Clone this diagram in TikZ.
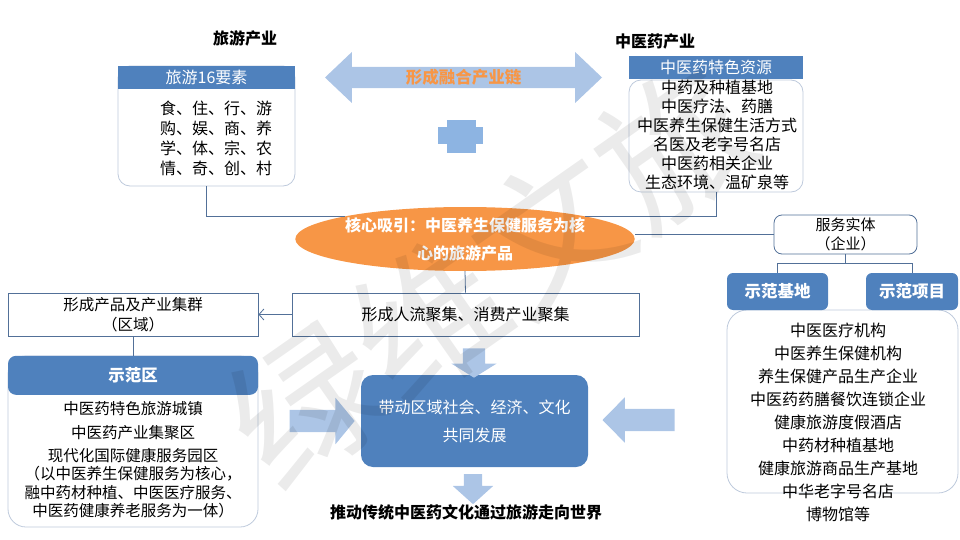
\documentclass[tikz,border=0pt]{standalone}
\usepackage{fontspec}
\setmainfont{Noto Sans CJK SC}
\usepackage{xcolor}
\definecolor{hdrblue}{RGB}{79,129,189}
\definecolor{arrowblue}{RGB}{172,197,230}
\definecolor{plusblue}{RGB}{141,180,226}
\definecolor{coreorange}{RGB}{247,150,70}
\definecolor{linkblue}{RGB}{82,112,152}
\definecolor{cardline}{RGB}{190,202,220}
\usepackage{tikz}
\usetikzlibrary{
  shapes.geometric, shapes.arrows,
  arrows.meta, positioning
}

\begin{document}
\begin{tikzpicture}[x=1pt, y=-1pt,
  hdr/.style={fill=hdrblue, text=white, inner sep=0pt,
    font=\fontsize{16}{19}\selectfont},
  hdrbold/.style={fill=hdrblue, text=white, inner sep=0pt,
    rounded corners=6pt, font=\fontsize{16.5}{19}\selectfont\bfseries},
  card/.style={draw=cardline, line width=0.8pt, fill=white, inner sep=0pt},
  plainbox/.style={draw=linkblue, line width=0.8pt, fill=white,
    inner sep=0pt, align=center},
  listtext/.style={align=center, inner sep=0pt},
  title/.style={inner sep=0pt, font=\fontsize{16}{19}\selectfont\bfseries},
  blockarr/.style={fill=arrowblue, draw=none, inner sep=0pt},
  link/.style={draw=linkblue, line width=0.8pt},
  arr/.style={link, -{Straight Barb[length=5pt, width=11pt]}}]

  \useasboundingbox (0,0) rectangle (960,540);

  % the two industries
  \node[title] (tourtitle) at (245,38) {旅游产业};
  \node[title] (tcmtitle) at (655,41) {中医药产业};

  \node[card, rounded corners=12pt, minimum width=177pt, minimum height=120pt] (tourbody) at (206.5,126) {};
  \node[hdr, anchor=north, minimum width=177pt, minimum height=23pt] (tourhdr) at (tourbody.north) {旅游16要素};
  \node[listtext, font=\fontsize{16}{20}\selectfont] (tourlist) at (216,138)
    {食、住、行、游\\购、娱、商、养\\学、体、宗、农\\情、奇、创、村};

  \node[card, rounded corners=12pt, minimum width=174pt, minimum height=112pt] (tcmbody) at (716,136) {};
  \node[hdr, anchor=south, minimum width=174pt, minimum height=23pt] (tcmhdr) at (tcmbody.north) {中医药特色资源};
  \node[listtext, font=\fontsize{16}{19}\selectfont] (tcmlist) at (717,135)
    {中药及种植基地\\中医疗法、药膳\\中医养生保健生活方式\\名医及老字号名店\\中医药相关企业\\生态环境、温矿泉等};

  \node[blockarr, double arrow, double arrow tip angle=87, double arrow head extend=11.5pt,
    minimum width=51pt, minimum height=277pt, text=coreorange,
    font=\fontsize{16.5}{19}\selectfont\bfseries] (chain) at (463.5,77.5) {形成融合产业链};

  \node[fill=plusblue, inner sep=0pt, minimum width=45pt, minimum height=17pt] (plush) at (460.5,135.5) {};
  \node[fill=plusblue, inner sep=0pt, minimum width=29pt, minimum height=33pt] (plusv) at (461.5,136.5) {};

  % core product
  \node[ellipse, fill=coreorange, inner sep=0pt, minimum width=304pt, minimum height=64pt,
    text=white, align=center, font=\fontsize{16}{28}\selectfont\bfseries] (core) at (465,239)
    {核心吸引：中医养生保健服务为核\\心的旅游产品};

  \draw[link] (tourbody.south) |- (core.north west);
  \draw[link] (tcmbody.south) |- (core.north east);

  \node[plainbox, minimum width=347pt, minimum height=43pt, font=\fontsize{16}{19}\selectfont] (flow) at (465.5,314.5)
    {形成人流聚集、消费产业聚集};
  \draw[link] (core.south) -- (flow.north);

  % left: region
  \node[plainbox, minimum width=250pt, minimum height=43pt, font=\fontsize{15.5}{20}\selectfont] (cluster) at (133,314.5)
    {形成产品及产业集群\\（区域）};
  \draw[arr] (flow.west) -- (cluster.east);

  \node[card, rounded corners=18pt, minimum width=250pt, minimum height=171pt] (zonebody) at (133,441.5) {};
  \node[hdrbold, anchor=north, rounded corners=8pt, minimum width=250pt, minimum height=39pt] (zonehdr) at (zonebody.north) {示范区};
  \draw[link] (cluster.south) -- (zonehdr.north);
  \node[listtext, font=\fontsize{15.5}{18.5}\selectfont] (zonelist) at (133,460)
    {中医药特色旅游城镇\\[5pt]中医药产业集聚区\\[4.5pt]现代化国际健康服务园区\\（以中医养生保健服务为核心，\\融中药材种植、中医医疗服务、\\中医药健康养老服务为一体）};

  % right: enterprises
  \node[plainbox, rounded corners=8pt, minimum width=143pt, minimum height=39pt, font=\fontsize{15}{19}\selectfont] (service) at (845.5,234.5)
    {服务实体\\（企业）};
  \draw[link] (service.west) -- (service.west -| core.east);

  \node[card, rounded corners=20pt, minimum width=231pt, minimum height=183pt] (sitebody) at (842.5,401.5) {};
  \node[hdrbold, minimum width=101pt, minimum height=37pt] (base) at (777.5,291.5) {示范基地};
  \node[hdrbold, minimum width=92pt, minimum height=37pt] (proj) at (912,291.5) {示范项目};
  \coordinate (fork) at ([yshift=-8.5pt]service.south);
  \draw[link] (service.south) -- (fork);
  \draw[link] (base.north) |- (fork) -| (proj.north);
  \node[listtext, font=\fontsize{16}{23}\selectfont] (sitelist) at (838,422)
    {中医医疗机构\\中医养生保健机构\\养生保健产品生产企业\\中医药药膳餐饮连锁企业\\健康旅游度假酒店\\中药材种植基地\\健康旅游商品生产基地\\中华老字号名店\\博物馆等};

  % development
  \node[fill=hdrblue, rounded corners=12pt, inner sep=0pt, minimum width=227pt, minimum height=92pt,
    text=white, align=center, font=\fontsize{16}{28}\selectfont] (develop) at (474.5,421)
    {带动区域社会、经济、文化\\共同发展};

  \node[blockarr, single arrow, shape border rotate=270, inner sep=11pt, single arrow tip angle=116,
    single arrow head extend=11.5pt, minimum width=45pt, minimum height=29pt] (intoa) at (474,359.5) {};
  \node[blockarr, single arrow, shape border rotate=270, inner sep=9pt, single arrow tip angle=96,
    single arrow head extend=11pt, minimum width=40pt, minimum height=30pt] (outa) at (473,485) {};
  \node[blockarr, single arrow, inner sep=11pt, single arrow tip angle=101,
    single arrow head extend=12pt, minimum width=46pt, minimum height=65pt] (lefta) at (317.5,421) {};
  \node[blockarr, single arrow, shape border rotate=180, inner sep=11pt, single arrow tip angle=91,
    single arrow head extend=11.5pt, minimum width=45pt, minimum height=72pt] (righta) at (644,420) {};

  \node[title] (world) at (466,512) {推动传统中医药文化通过旅游走向世界};

  % watermark
  \node[rotate=35, opacity=0.08, inner sep=0pt, font=\fontsize{150}{150}\selectfont] (mark) at (490,275) {绿维文旅};

\end{tikzpicture}
\end{document}
